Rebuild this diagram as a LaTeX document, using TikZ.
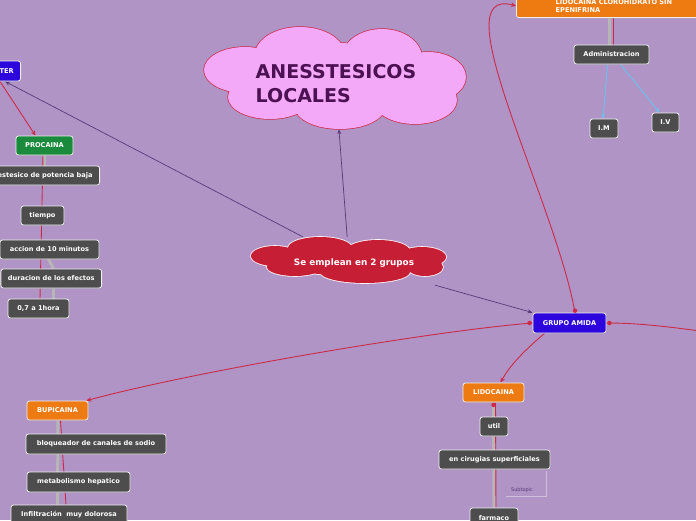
\documentclass[tikz,border=0pt]{standalone}
\usepackage{fontspec}
\newfontfamily\dvs{DejaVu Sans}
\usetikzlibrary{arrows.meta,shadows}
\pgfdeclarelayer{bgl}
\pgfdeclarelayer{edges}
\pgfsetlayers{bgl,edges,main}
\definecolor{bgpurple}{RGB}{176,148,197}
\definecolor{lpurple}{RGB}{88,58,120}
\definecolor{cred}{RGB}{205,42,72}
\definecolor{gline}{RGB}{182,182,182}
\definecolor{bline}{RGB}{110,190,235}
\definecolor{ngray}{RGB}{77,77,77}
\definecolor{norange}{RGB}{238,122,18}
\definecolor{nblue}{RGB}{44,6,220}
\definecolor{ngreen}{RGB}{26,138,60}
\definecolor{pinkc}{RGB}{243,168,248}
\definecolor{ttext}{RGB}{75,17,82}
\definecolor{cloudred}{RGB}{198,31,53}
\tikzset{
  box/.style={draw=white!88!gray, line width=0.8pt, rounded corners=2.5pt, text=white,
    font=\dvs\bfseries\fontsize{6.6}{9}\selectfont, inner xsep=7pt, inner ysep=0pt,
    minimum height=19pt, fill=ngray,
    drop shadow={shadow xshift=0.6pt, shadow yshift=-0.9pt, opacity=0.3}},
  graybox/.style={box, fill=ngray},
  orangebox/.style={box, fill=norange},
  bluebox/.style={box, fill=nblue},
  greenbox/.style={box, fill=ngreen},
  redcon/.style={draw=cred, line width=0.9pt},
  redarrow/.style={redcon, -{Stealth[length=5pt,width=4.5pt]}},
  purplearrow/.style={draw=lpurple, line width=0.7pt, -{Stealth[length=5pt,width=4pt]}},
  bluearrow/.style={draw=bline, line width=1pt, -{Stealth[length=5pt,width=4.5pt]}},
  grayline/.style={draw=gline, line width=3pt},
  dot/.style={fill=cred, draw=none, circle, inner sep=0pt, minimum size=4.5pt},
  cloudarea/.style={draw=none, fill=none, inner sep=0pt},
}
\begin{document}
\begin{tikzpicture}[x=1pt,y=-1pt]
\useasboundingbox (0,0) rectangle (696,520);
\clip (0,0) rectangle (696,520);
\begin{pgfonlayer}{bgl}
\fill[bgpurple] (0,0) rectangle (696,520);
\end{pgfonlayer}

% title cloud (union of ellipses)
\def\titlepuffs{
  (300,55) ellipse [x radius=45, y radius=28]
  (382,58) ellipse [x radius=40, y radius=29]
  (428,77) ellipse [x radius=38, y radius=25]
  (415,100) ellipse [x radius=42, y radius=24]
  (340,107) ellipse [x radius=45, y radius=22]
  (270,97) ellipse [x radius=42, y radius=22]
  (245,70) ellipse [x radius=41, y radius=23]
  (335,78) ellipse [x radius=100, y radius=35]}
\draw[cred, line width=1.4pt] \titlepuffs;
\fill[pinkc] \titlepuffs;
\node[cloudarea, minimum width=262pt, minimum height=102pt] (title) at (335,78) {};
\node[font=\dvs\bfseries\fontsize{19}{24}\selectfont, text=ttext, align=left] (titletext) at (336,84)
  {ANESSTESICOS\\LOCALES};

% central cloud
\def\grpuffs{
  (275,256) ellipse [x radius=24, y radius=10]
  (320,248) ellipse [x radius=32, y radius=11]
  (378,251) ellipse [x radius=32, y radius=11]
  (422,257) ellipse [x radius=24, y radius=10]
  (425,267) ellipse [x radius=18, y radius=9]
  (365,272) ellipse [x radius=45, y radius=11]
  (295,267) ellipse [x radius=28, y radius=9]
  (349,261) ellipse [x radius=80, y radius=14]}
\draw[white!85!pink, line width=1.6pt] \grpuffs;
\fill[cloudred] \grpuffs;
\node[cloudarea, minimum width=196pt, minimum height=48pt] (grupos) at (349,261) {};
\node[text=white, font=\dvs\bfseries\fontsize{8.8}{10}\selectfont] (grtext) at (354,263) {Se emplean en 2 grupos};

% left column
\node[bluebox, anchor=east, minimum height=20pt] (ester) at (21,71) {GRUPO ESTER};
\node[greenbox, minimum width=57pt] (procaina) at (44.5,145.5) {PROCAINA};
\node[graybox, anchor=east] (anest) at (100,175.5) {anestesico de potencia baja};
\node[graybox, minimum width=43pt] (tiempo) at (42.5,215.5) {tiempo};
\node[graybox, minimum width=99pt] (accion) at (49.5,249.5) {accion de 10 minutos};
\node[graybox, anchor=east] (duracion) at (102,278.5) {duracion de los efectos};
\node[graybox, minimum width=61pt] (hora) at (38.5,308.5) {0,7 a 1hora};

% top right
\node[orangebox, anchor=south west, minimum width=195pt, minimum height=0pt, inner ysep=5pt, align=left,
  font=\dvs\bfseries\fontsize{6.6}{8.5}\selectfont] (lidoclor) at (516,18)
  {LIDOCAINA CLOROHIDRATO SIN\\EPENIFRINA};
\node[graybox, minimum width=75pt] (admin) at (611.5,54.5) {Administracion};
\node[graybox, minimum width=28pt, inner xsep=2pt] (im) at (604,128.5) {I.M};
\node[graybox, minimum width=27pt, inner xsep=2pt] (iv) at (665.5,122.5) {I.V};

% amida
\node[bluebox, minimum width=73pt, minimum height=20pt] (amida) at (569.5,323) {GRUPO AMIDA};
\node[orangebox, minimum width=61pt] (lido) at (493.5,392.5) {LIDOCAINA};
\node[graybox, minimum width=28pt, inner xsep=2pt] (util) at (494,426.5) {util};
\node[graybox, minimum width=111pt] (cirug) at (494.5,459.5) {en cirugias superficiales};
\node[graybox, minimum width=48pt, minimum height=20pt] (farmaco) at (494,518) {farmaco};
\node[font=\dvs\fontsize{5}{6}\selectfont, text=lpurple] (subtopic) at (522,490) {Subtopic};

% bupicaina
\node[orangebox, minimum width=61pt] (bupi) at (57.5,410.5) {BUPICAINA};
\node[graybox, minimum width=140pt, minimum height=20pt] (bloq) at (96,444) {bloqueador de canales de sodio};
\node[graybox, minimum width=103pt, minimum height=20pt] (metab) at (78.5,482) {metabolismo hepatico};
\node[graybox, minimum width=116pt, minimum height=20pt] (infil) at (69,515) {Infiltración\ \ muy dolorosa};

\coordinate (rightend) at (700,331);
\coordinate (sbtr) at (546,471);
\coordinate (sbbl) at (506,496);

\begin{pgfonlayer}{edges}
% purple connectors
\draw[purplearrow] (grupos) -- (title);
\draw[purplearrow] (grupos) -- ([xshift=-16pt]ester.south east);
\draw[purplearrow] (grupos) -- (amida.north west);
% left column
\draw[redarrow] ([xshift=-21pt]ester.south east) -- ([xshift=-9pt]procaina.north);
\draw[grayline] (procaina.south) -- (procaina.south |- anest.north);
\draw[redcon] ([xshift=-1.5pt]procaina.south) -- ([xshift=1.5pt]hora.north);
\draw[grayline] ([xshift=-1pt]accion.south) -- ([xshift=15pt]hora.north |- duracion.north);
\draw[grayline] ([xshift=15pt]hora.north |- duracion.south) -- ([xshift=15pt]hora.north);
% top right
\draw[redarrow] ([xshift=5.5pt]amida.north) .. controls (555,200) and (440,-15) .. (lidoclor.west);
\draw[grayline] ([xshift=-2pt]admin.north |- lidoclor.south) -- ([xshift=-2pt]admin.north);
\draw[redcon] ([xshift=1.5pt]admin.north |- lidoclor.south) -- ([xshift=1.5pt]admin.north);
\draw[bluearrow] ([xshift=-4pt]admin.south) -- ([xshift=-1pt]im.north);
\draw[bluearrow] ([xshift=9pt]admin.south) -- ([xshift=-6pt]iv.north);
% amida
\draw[redcon] (amida.east) .. controls (640,323) and (670,327) .. (rightend);
\draw[redarrow] (amida.west) .. controls (440,330) and (200,370) .. ([xshift=-2pt]bupi.north east);
\draw[redarrow] ([xshift=-25pt]amida.south) .. controls (525,350) and (510,365) .. ([xshift=7pt]lido.north);
\draw[grayline] (lido.south) -- (farmaco.north);
\draw[redcon] ([xshift=2pt]lido.south) -- ([xshift=2pt]farmaco.north);
\draw[draw=white!40!bgpurple, line width=0.6pt] (sbtr) -- (sbtr |- sbbl) -- (sbbl);
% bupicaina
\draw[grayline] ([xshift=0.5pt]bupi.south) -- ([xshift=-11.5pt]infil.north);
\draw[redcon] ([xshift=3pt]bupi.south) -- ([xshift=-3pt]infil.north);
\end{pgfonlayer}
% dots
\node[dot] at ([xshift=-3pt]amida.west) {};
\node[dot] at ([xshift=3pt]amida.east) {};
\node[dot] at ([xshift=5.5pt,yshift=2pt]amida.north) {};
\node[dot] at ([yshift=-2.5pt]lido.south) {};
\end{tikzpicture}
\end{document}
